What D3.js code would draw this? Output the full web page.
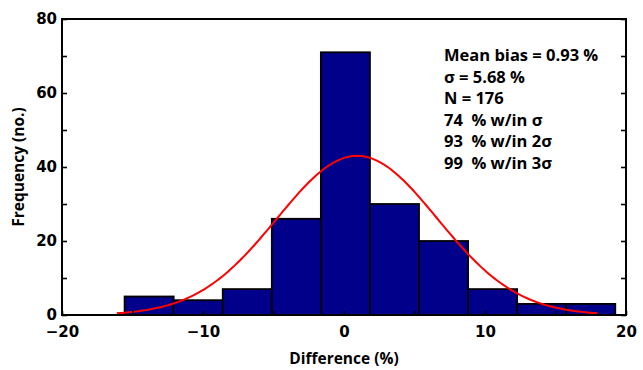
<!DOCTYPE html>
<html>
<head>
<meta charset="utf-8">
<script src="https://cdn.jsdelivr.net/npm/d3@7"></script>
<style>
  body { margin: 0; background: #fff; }
  text { font-family: "Open Sans", sans-serif; font-weight: 700; fill: #000; }
  .tick text { font-family: "DejaVu Sans", sans-serif; font-size: 15px; font-weight: 700; }
</style>
</head>
<body>
<script>
// histogram bins (left edges, %), counts per bin
var binStart = -15.56, binWidth = 3.48
var counts = [5, 4, 7, 26, 71, 30, 20, 7, 3, 3]
var meanBias = 0.93, sigma = 5.68, total = 176
var xTicks = [-20, -10, 0, 10, 20]
var yTicks = [0, 20, 40, 60, 80]
var notes = ['Mean bias = 0.93 %', 'σ = 5.68 %', 'N = 176', '74  % w/in σ', '93  % w/in 2σ', '99  % w/in 3σ']

var W = 643, H = 370
var m = {left: 62, right: 17, top: 19, bottom: 55}

var svg = d3.select('body').append('svg')
  .attr('width', W).attr('height', H)

var x = d3.scaleLinear().domain([-20, 20]).range([m.left, W - m.right])
var y = d3.scaleLinear().domain([0, 80]).range([H - m.bottom, m.top])

var bins = counts.map(function(c, i) {
  return {x0: binStart + i * binWidth, x1: binStart + (i + 1) * binWidth, n: c}
})

svg.selectAll('rect.bar').data(bins)
  .enter().append('rect')
    .attr('class', 'bar')
    .attr('x', function(d) { return x(d.x0) })
    .attr('width', function(d) { return x(d.x1) - x(d.x0) })
    .attr('y', function(d) { return y(d.n) })
    .attr('height', function(d) { return y(0) - y(d.n) })
    .attr('fill', '#00008b')
    .attr('stroke', '#000')
    .attr('stroke-width', 1.8)

// fitted normal curve, mean +/- 3 sigma
var peak = total * binWidth / (sigma * Math.sqrt(2 * Math.PI))
var curve = d3.range(0, 201).map(function(i) {
  var v = meanBias - 3 * sigma + i * 6 * sigma / 200
  return [v, peak * Math.exp(-0.5 * Math.pow((v - meanBias) / sigma, 2))]
})
svg.append('path')
  .datum(curve)
  .attr('fill', 'none')
  .attr('stroke', '#ff0000')
  .attr('stroke-width', 2)
  .attr('d', d3.line().x(function(d) { return x(d[0]) }).y(function(d) { return y(d[1]) }))

// axes with inward ticks
var gx = svg.append('g').attr('transform', 'translate(0,' + y(0) + ')')
  .call(d3.axisBottom(x).tickValues(xTicks).tickSize(0).tickPadding(11).tickFormat(d3.format('d')))
gx.select('.domain').remove()
svg.append('g').attr('transform', 'translate(0,' + y(0) + ')')
  .call(d3.axisTop(x).tickValues(d3.range(-20, 21, 5)).tickSize(4).tickFormat(''))
  .select('.domain').remove()

var gy = svg.append('g').attr('transform', 'translate(' + x(-20) + ',0)')
  .call(d3.axisLeft(y).tickValues(yTicks).tickSize(0).tickPadding(5).tickFormat(d3.format('d')))
gy.select('.domain').remove()
svg.append('g').attr('transform', 'translate(' + x(-20) + ',0)')
  .call(d3.axisRight(y).tickValues(d3.range(0, 81, 10)).tickSize(5).tickFormat(''))
  .select('.domain').remove()
svg.append('g').attr('transform', 'translate(' + x(20) + ',0)')
  .call(d3.axisLeft(y).tickValues(d3.range(0, 81, 10)).tickSize(5).tickFormat(''))
  .select('.domain').remove()
svg.selectAll('.tick line').attr('stroke', '#000').attr('stroke-width', 1.6)

svg.append('rect')
  .attr('x', x(-20)).attr('y', y(80))
  .attr('width', x(20) - x(-20)).attr('height', y(0) - y(80))
  .attr('fill', 'none').attr('stroke', '#000').attr('stroke-width', 2)

svg.append('text')
  .attr('x', x(0)).attr('y', 364)
  .attr('text-anchor', 'middle').attr('font-size', 15.5)
  .text('Difference (%)')
svg.append('text')
  .attr('transform', 'translate(24,' + y(40) + ') rotate(-90)')
  .attr('text-anchor', 'middle').attr('font-size', 15.5)
  .text('Frequency (no.)')

svg.append('g').selectAll('text').data(notes)
  .enter().append('text')
    .attr('x', 444)
    .attr('y', function(d, i) { return 61 + i * 21.5 })
    .attr('font-size', 16.5)
    .style('white-space', 'pre')
    .text(function(d) { return d })
</script>
</body>
</html>
